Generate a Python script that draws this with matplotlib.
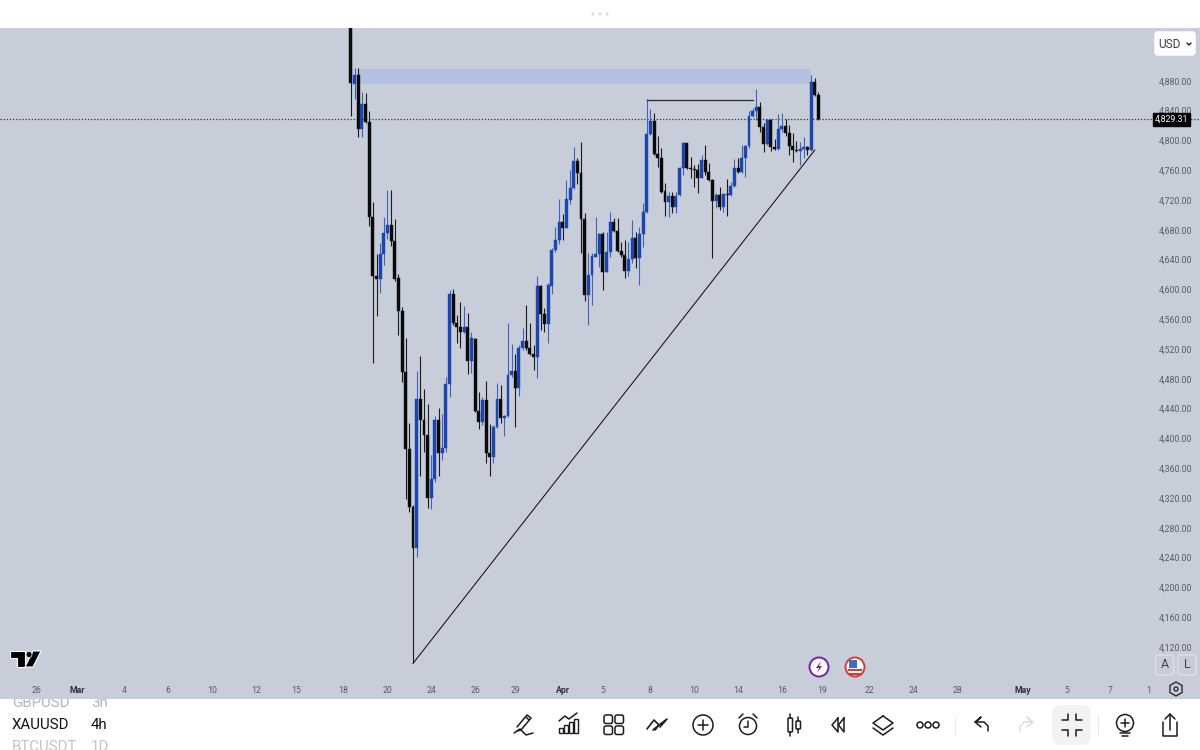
import matplotlib
matplotlib.use("Agg")
import matplotlib.pyplot as plt
from matplotlib.patches import Circle, FancyBboxPatch, Polygon, Rectangle, RegularPolygon
from matplotlib.transforms import Bbox, TransformedBbox, blended_transform_factory
import numpy as np

plt.rcParams['font.family'] = 'Roboto'

#------------------------------------------- Datos (velas 4h XAUUSD) -------------------------------------------#
opens = [4965, 4876, 4888, 4816, 4849, 4825, 4697, 4618, 4614, 4648, 4676, 4687, 4665, 4616, 4571, 4489, 4386, 4308, 4253, 4453,
         4425, 4405, 4320, 4346, 4425, 4381, 4387, 4473, 4594, 4555, 4549, 4543, 4549, 4504, 4534, 4437, 4422, 4452, 4381, 4375,
         4415, 4453, 4428, 4430, 4485, 4491, 4468, 4521, 4531, 4521, 4513, 4509, 4604, 4567, 4554, 4605, 4653, 4666, 4691, 4683,
         4720, 4736, 4773, 4757, 4695, 4593, 4620, 4644, 4647, 4675, 4624, 4650, 4691, 4679, 4652, 4646, 4625, 4641, 4669, 4642,
         4675, 4704, 4809, 4826, 4782, 4777, 4732, 4717, 4726, 4711, 4727, 4763, 4796, 4763, 4762, 4761, 4750, 4774, 4758, 4747,
         4719, 4727, 4711, 4728, 4727, 4739, 4763, 4758, 4777, 4793, 4833, 4840, 4845, 4818, 4795, 4828, 4791, 4789, 4816, 4820,
         4810, 4793, 4787, 4786, 4788, 4791, 4787, 4879, 4861]
highs = [4975, 4897, 4897, 4865, 4864, 4840, 4717, 4648, 4662, 4697, 4734, 4734, 4695, 4621, 4577, 4535, 4421, 4310, 4491, 4511,
         4466, 4446, 4378, 4430, 4441, 4433, 4483, 4599, 4601, 4566, 4583, 4578, 4569, 4543, 4535, 4462, 4456, 4477, 4420, 4418,
         4475, 4472, 4431, 4555, 4527, 4513, 4526, 4548, 4579, 4555, 4526, 4618, 4606, 4575, 4609, 4655, 4684, 4722, 4701, 4747,
         4761, 4791, 4777, 4798, 4703, 4649, 4649, 4697, 4676, 4677, 4677, 4704, 4696, 4696, 4664, 4666, 4664, 4693, 4677, 4684,
         4716, 4856, 4842, 4837, 4806, 4790, 4743, 4731, 4731, 4731, 4764, 4798, 4797, 4778, 4767, 4769, 4781, 4794, 4770, 4748,
         4730, 4738, 4730, 4748, 4744, 4775, 4777, 4794, 4794, 4840, 4844, 4869, 4852, 4824, 4829, 4829, 4802, 4836, 4837, 4829,
         4821, 4810, 4799, 4798, 4805, 4793, 4888, 4884, 4865]
lows = [4833, 4856, 4805, 4804, 4824, 4685, 4501, 4564, 4595, 4633, 4668, 4658, 4611, 4539, 4476, 4319, 4301, 4098, 4241, 4350,
        4382, 4307, 4305, 4342, 4350, 4371, 4382, 4456, 4552, 4528, 4521, 4541, 4487, 4488, 4436, 4413, 4418, 4367, 4350, 4367,
        4414, 4421, 4403, 4429, 4483, 4415, 4457, 4519, 4519, 4512, 4492, 4481, 4545, 4543, 4528, 4594, 4650, 4661, 4666, 4682,
        4715, 4735, 4742, 4649, 4585, 4552, 4579, 4643, 4630, 4599, 4623, 4644, 4677, 4650, 4644, 4615, 4618, 4636, 4629, 4606,
        4657, 4703, 4807, 4781, 4765, 4730, 4699, 4697, 4703, 4703, 4726, 4754, 4762, 4750, 4737, 4729, 4749, 4754, 4746, 4642,
        4710, 4707, 4704, 4699, 4726, 4738, 4757, 4757, 4751, 4790, 4831, 4828, 4811, 4785, 4794, 4786, 4787, 4787, 4811, 4806,
        4781, 4771, 4785, 4767, 4777, 4781, 4786, 4860, 4828]
closes = [4877, 4888, 4816, 4849, 4825, 4697, 4618, 4614, 4648, 4676, 4687, 4665, 4614, 4571, 4489, 4386, 4308, 4253, 4453, 4425,
          4405, 4320, 4346, 4425, 4381, 4387, 4473, 4594, 4555, 4549, 4543, 4549, 4504, 4535, 4437, 4422, 4452, 4381, 4375, 4415,
          4453, 4428, 4430, 4485, 4491, 4468, 4521, 4531, 4521, 4513, 4509, 4604, 4567, 4554, 4606, 4653, 4666, 4691, 4683, 4722,
          4736, 4773, 4757, 4695, 4593, 4620, 4645, 4647, 4675, 4624, 4650, 4691, 4679, 4652, 4646, 4625, 4641, 4669, 4642, 4675,
          4704, 4809, 4826, 4782, 4777, 4731, 4717, 4726, 4711, 4726, 4763, 4797, 4763, 4762, 4761, 4750, 4774, 4758, 4747, 4719,
          4727, 4711, 4728, 4727, 4739, 4763, 4758, 4777, 4793, 4833, 4840, 4845, 4818, 4795, 4828, 4791, 4789, 4816, 4820, 4810,
          4793, 4787, 4786, 4788, 4791, 4787, 4879, 4861, 4829.31]

price_ticks = [4880, 4840, 4800, 4760, 4720, 4680, 4640, 4600, 4560, 4520, 4480, 4440, 4400, 4360, 4320, 4280, 4240, 4200, 4160, 4120]
date_pos = [-86, -75, -62, -50, -38, -26, -15, -2, 10, 22, 34, 45, 58, 69, 82, 94, 106, 118, 129, 142, 154, 166, 184, 196, 208, 218.5]
date_labels = ['26', 'Mar', '4', '6', '10', '12', '15', '18', '20', '24', '26', '29', 'Apr', '5', '8', '10', '14', '16', '19', '22', '24', '28', 'May', '5', '7', '1']
bold_dates = ['Mar', 'Apr', 'May']

# Dibujos del usuario sobre el grafico
zone_x = [2, 126]
zone_price = [4876, 4896]
hline_x = [81, 110]
hline_price = [4854, 4854]
trend_x = [17, 127]
trend_price = [4098, 4787]
last_price = closes[-1]

BG = '#c8cdda'
BLACK = '#0a0a0a'
BLUE = '#1c45ad'
BLUE_WICK = '#3f63bd'

#------------------------------------------- Grafico principal -------------------------------------------#
fig = plt.figure(figsize=(12, 7.5), dpi=100, facecolor='white')
ax = fig.add_axes([0, 51 / 750, 1, 671 / 750], facecolor=BG)
ax.set_xlim(-96.1, 232.5)
ax.set_ylim(4050.2, 4951)
for s in ax.spines.values():
    s.set_visible(False)

x = np.arange(len(opens))
o, h, l, c = map(np.array, (opens, highs, lows, closes))
up = c >= o

ax.add_patch(Rectangle((zone_x[0], zone_price[0]), zone_x[1] - zone_x[0], zone_price[1] - zone_price[0],
                       facecolor='#b3c0e0', edgecolor='none', zorder=1))
ax.axhline(last_price, color='#333333', lw=0.9, ls=(0, (1, 1.5)), zorder=2)

ax.vlines(x[~up], l[~up], h[~up], color='#1a1a1a', lw=0.8, zorder=3)
ax.vlines(x[up], l[up], h[up], color=BLUE_WICK, lw=0.8, zorder=3)
ax.bar(x[~up], (o - c)[~up], bottom=c[~up], width=0.8, color=BLACK, edgecolor=BLACK, lw=0.3, zorder=4)
ax.bar(x[up], (c - o)[up], bottom=o[up], width=0.8, color=BLUE, edgecolor=BLUE, lw=0.3, zorder=4)

ax.plot(hline_x, hline_price, color='#2a2a2a', lw=0.9, zorder=5)
ax.plot(trend_x, trend_price, color='#111111', lw=0.75, zorder=5)

ax.yaxis.tick_right()
ax.set_yticks(price_ticks)
ax.set_yticklabels([f'{p:,.2f}' for p in price_ticks])
ax.tick_params(axis='y', length=0, pad=-29.5, labelsize=6.3, labelcolor='#565c6b')
ax.set_xticks(date_pos)
ax.set_xticklabels(date_labels)
ax.tick_params(axis='x', length=0, pad=-9.5, labelsize=6.3, labelcolor='#565c6b')
for t in ax.get_xticklabels():
    if t.get_text() in bold_dates:
        t.set_fontweight('bold')
        t.set_color('#2f3340')

trans = blended_transform_factory(ax.transAxes, ax.transData)
ax.text(1171.5 / 1200, last_price - 1, f'{last_price:,.2f}', transform=trans, color='white', fontsize=6.3,
        ha='center', va='center', zorder=8,
        bbox=dict(boxstyle='square,pad=0.2', facecolor='black', edgecolor='black'))

#------------------------------------------- Interfaz (en pixeles) -------------------------------------------#
ov = fig.add_axes([0, 0, 1, 1], facecolor='none', zorder=10)
ov.set_xlim(0, 1200)
ov.set_ylim(750, 0)
ov.axis('off')


def ln(xs, ys, color='#1c1c1c', lw=1.1):
    ov.plot(xs, ys, color=color, lw=lw, solid_capstyle='round', solid_joinstyle='round')


def ring(cx, cy, r, color='#1c1c1c', lw=1.1, fc='none'):
    ov.add_patch(Circle((cx, cy), r, facecolor=fc, edgecolor=color, lw=lw))


def rbox(x0, y0, w, h, fc='none', ec='#1c1c1c', lw=1.1, r=2):
    ov.add_patch(FancyBboxPatch((x0 + r, y0 + r), w - 2 * r, h - 2 * r, boxstyle=f'round,pad={r}',
                                facecolor=fc, edgecolor=ec, lw=lw))


# franja superior
for dx in [593, 600, 607]:
    ov.add_patch(Circle((dx, 14), 1.6, facecolor='#dcdcdc', edgecolor='none'))

# logo TradingView
ov.add_patch(Polygon([(10, 651), (25, 651), (25, 667), (17, 667), (17, 658), (10, 658)], facecolor='black', edgecolor='white', lw=0.8))
ov.add_patch(Polygon([(33, 651), (41, 651), (33, 667), (25, 667)], facecolor='black', edgecolor='white', lw=0.8))
ov.add_patch(Circle((29, 654.5), 3, facecolor='black', edgecolor='white', lw=0.5))

# USD, A, L, engranaje
rbox(1155, 32, 40, 23, fc='white', ec='white', r=3)
ov.text(1169, 44, 'USD', fontsize=8.6, color='#3c3f48', ha='center', va='center')
ln([1187, 1189, 1191], [43, 45, 43], lw=1)
rbox(1155.5, 655, 18, 20, fc='none', ec='#dde0e8', lw=1, r=3)
rbox(1178, 655, 18, 20, fc='none', ec='#dde0e8', lw=1, r=3)
ov.text(1164.5, 665, 'A', fontsize=9, color='#43464f', ha='center', va='center')
ov.text(1187, 665, 'L', fontsize=9, color='#43464f', ha='center', va='center')
ov.add_patch(RegularPolygon((1176, 689), 6, radius=7, facecolor='none', edgecolor='#2c2f38', lw=1))
ring(1176, 689, 2, color='#2c2f38', lw=1)

# eventos
ring(819, 667, 9.5, color='#7a1fa2', lw=1.4, fc='white')
ov.add_patch(Polygon([(821, 661), (816, 668), (819, 668), (817, 673), (822, 666), (819, 666)], facecolor='#7a1fa2', edgecolor='none'))
ring(855, 667, 9.5, color='#d83a3a', lw=1.4, fc='white')
ov.add_patch(Rectangle((848, 669), 14, 2, facecolor='#d83a3a', edgecolor='none'))
ov.add_patch(Rectangle((849, 673), 12, 1.5, facecolor='#d83a3a', edgecolor='none'))
ov.add_patch(Rectangle((849, 660), 8, 8, facecolor='#3a6fc4', edgecolor='none'))

# lista de simbolos (recortada por el grafico y el borde)
toolbar_box = TransformedBbox(Bbox([[0, 699], [1200, 750]]), ov.transData)
for label, col, ty in [('GBPUSD', '#b4b4b4', 703), ('XAUUSD', '#111111', 725), ('BTCUSDT', '#c4c4c4', 747)]:
    t = ov.text(12, ty, label, fontsize=10.8, color=col, va='center')
    t.set_clip_box(toolbar_box)
    t.set_clip_on(True)
for label, col, ty in [('3h', '#b4b4b4', 703), ('4h', '#111111', 725), ('1D', '#c4c4c4', 747)]:
    t = ov.text(91, ty, label, fontsize=10.8, color=col, va='center')
    t.set_clip_box(toolbar_box)
    t.set_clip_on(True)

# barra de herramientas
ln([517, 527, 531, 521, 517], [727, 715, 718, 730, 731])      # lapiz
ln([526, 529], [717, 720])
ln([514, 520, 526, 533], [733, 729, 735, 733])
for bx, bh in zip([559, 564, 569, 574], [5, 8, 11, 14]):       # indicadores
    ov.add_patch(Rectangle((bx, 733 - bh), 3.5, bh, facecolor='none', edgecolor='#1c1c1c', lw=1))
ln([559, 565, 569, 577], [721, 716, 719, 713])
for qx in [604, 615]:                                           # cuadros
    for qy in [715, 726]:
        rbox(qx, qy, 8.5, 8.5, r=2)
ln([647, 654, 659, 655], [729, 720, 725, 730], lw=1.2)          # zigzag
ln([653, 659, 667, 660], [730, 725, 719, 727], lw=1.2)
ring(703, 725, 10)                                              # mas
ln([703, 703], [720, 730])
ln([698, 708], [725, 725])
ring(748, 726, 8.5)                                             # alarma
ln([748, 748, 744], [721, 727, 727])
ln([739, 743], [718, 714])
ln([757, 753], [718, 714])
rbox(788, 718, 4.5, 14, r=1)                                    # velas
ln([790, 790], [714, 718])
ln([790, 790], [732, 736])
rbox(796, 721, 4.5, 8, r=1)
ln([798, 798], [717, 721])
ln([798, 798], [729, 733])
ln([838, 832, 838, 838], [718, 725, 732, 718])                   # retroceso
ln([844, 838.5, 844, 844], [718, 725, 732, 718])
ln([883, 893, 883, 873, 883], [716, 723, 730, 723, 716])        # capas
ln([873, 883, 893], [728, 735, 728])
for cx in [920, 928, 936]:                                      # mas opciones
    ring(cx, 725, 3)
ln([955, 955], [716, 735], color='#e8e8e8', lw=0.8)
ln([975, 981, 976, 984, 988, 988], [722, 717, 722, 722, 726, 731])  # deshacer
ln([975, 981], [722, 727])
ln([1033, 1027, 1032, 1024, 1020, 1020], [722, 717, 722, 722, 726, 731], color='#dedede')  # rehacer
ln([1033, 1027], [722, 727], color='#dedede')
rbox(1053, 706, 37, 38, fc='#f2f2f2', ec='#f2f2f2', r=7)
ln([1062, 1068, 1068], [720, 720, 714])                          # reducir
ln([1082, 1076, 1076], [720, 720, 714])
ln([1062, 1068, 1068], [730, 730, 736])
ln([1082, 1076, 1076], [730, 730, 736])
ln([1098, 1098], [716, 735], color='#e8e8e8', lw=0.8)
ring(1125, 723, 8.5)                                             # bombilla
ln([1125, 1125], [719, 727])
ln([1121, 1129], [723, 723])
ln([1120, 1130], [733, 733])
ln([1122, 1128], [736, 736])
ln([1163, 1163, 1177, 1177], [722, 736, 736, 722])               # compartir
ln([1170, 1170], [730, 714])
ln([1165, 1170, 1175], [719, 714, 719])
ln([0, 1200], [749.5, 749.5], color='#f0f0f0', lw=0.8)

fig.savefig('out.png', dpi=100, facecolor='white')
